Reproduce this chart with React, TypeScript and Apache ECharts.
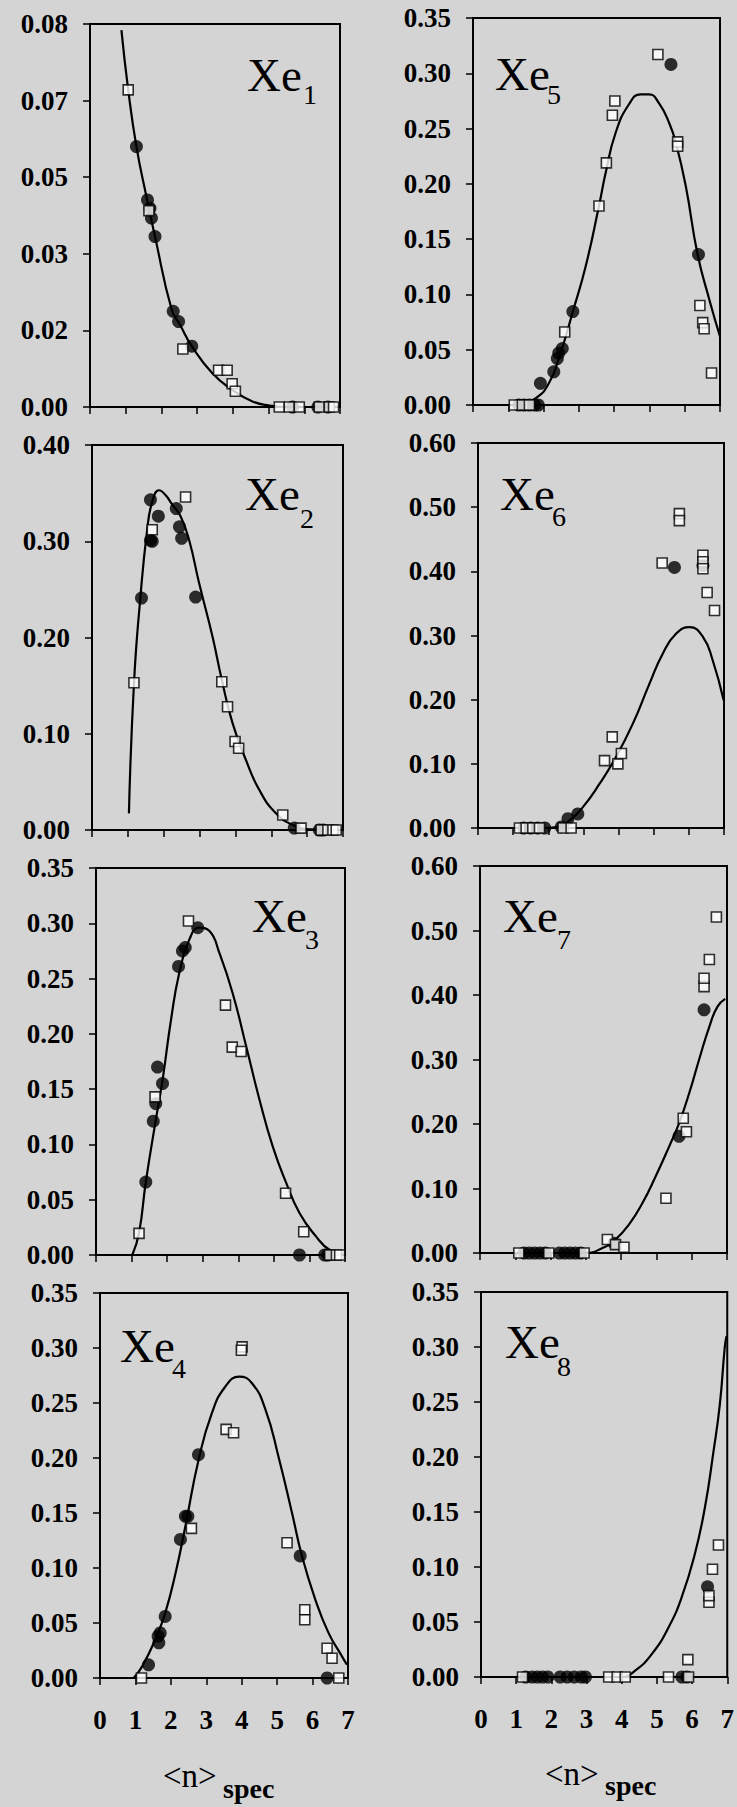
import React, { useEffect, useRef } from "react";
import * as echarts from "echarts";

// ---------- data ----------
const X_TICK_LABELS = ["0", "1", "2", "3", "4", "5", "6", "7"];
const Y1_LABELS = ["0.00", "0.02", "0.03", "0.05", "0.07", "0.08"];
const PANEL_NAMES = ["Xe1", "Xe2", "Xe3", "Xe4", "Xe5", "Xe6", "Xe7", "Xe8"];
const PANEL_SUBS = ["1", "2", "3", "4", "5", "6", "7", "8"];
const X_TITLE = "<n>";
const X_TITLE_SUB = "spec";

type P = [number, number];

const XE1_FIT: P[] = [[0.88,0.0812],[1.07,0.0683],[1.30,0.0561],[1.58,0.0453],[1.82,0.0367],[2.29,0.0209],[2.52,0.0177],[2.85,0.0131],[3.42,0.0073],[3.98,0.0037],[4.55,0.0012],[5.02,0.0003],[5.5,0],[6.94,0]];
const XE1_CIRCLES: P[] = [[1.30,0.0561],[1.61,0.0446],[1.68,0.0428],[1.72,0.0407],[1.82,0.0367],[2.33,0.0206],[2.48,0.0184],[2.85,0.0131],[5.67,0],[6.38,0],[6.66,0]];
const XE1_SQUARES: P[] = [[1.07,0.0683],[1.65,0.0423],[2.60,0.0125],[3.60,0.0079],[3.84,0.0079],[3.98,0.0050],[4.07,0.0034],[5.30,0],[5.58,0],[5.86,0],[6.42,0],[6.70,0],[6.82,0]];

const XE2_FIT: P[] = [[1.03,0.0173],[1.17,0.152],[1.35,0.242],[1.54,0.312],[1.68,0.341],[1.87,0.353],[2.05,0.348],[2.24,0.338],[2.47,0.326],[2.71,0.301],[2.99,0.256],[3.36,0.201],[3.62,0.156],[3.92,0.111],[4.29,0.073],[4.66,0.042],[5.13,0.0173],[5.60,0.0052],[6.06,0.0007],[6.95,0]];
const XE2_CIRCLES: P[] = [[1.38,0.241],[1.63,0.343],[1.63,0.301],[1.68,0.300],[1.85,0.326],[2.35,0.334],[2.44,0.315],[2.50,0.303],[2.89,0.242],[5.64,0.002],[6.34,0],[6.45,0]];
const XE2_SQUARES: P[] = [[1.17,0.153],[1.68,0.312],[2.61,0.346],[3.62,0.154],[3.78,0.128],[3.99,0.092],[4.09,0.085],[5.32,0.0156],[5.83,0.002],[6.39,0],[6.58,0],[6.72,0],[6.81,0]];

const XE3_FIT: P[] = [[1.02,0],[1.21,0.020],[1.40,0.066],[1.68,0.122],[1.87,0.158],[2.11,0.213],[2.34,0.255],[2.62,0.285],[2.90,0.296],[3.19,0.293],[3.47,0.273],[3.84,0.237],[4.22,0.189],[4.60,0.140],[4.97,0.098],[5.35,0.065],[5.72,0.038],[6.19,0.0166],[6.57,0.0045],[6.95,0.0006]];
const XE3_CIRCLES: P[] = [[1.40,0.066],[1.61,0.121],[1.68,0.137],[1.73,0.170],[1.87,0.155],[2.32,0.261],[2.43,0.275],[2.51,0.278],[2.86,0.296],[5.72,0],[6.43,0],[6.52,0]];
const XE3_SQUARES: P[] = [[1.21,0.0196],[1.66,0.143],[2.60,0.302],[3.64,0.226],[3.83,0.188],[4.08,0.184],[5.33,0.0558],[5.84,0.021],[6.57,0],[6.76,0],[6.85,0]];

const XE4_FIT: P[] = [[0.95,0],[1.19,0.0106],[1.56,0.035],[1.84,0.059],[2.13,0.095],[2.41,0.138],[2.78,0.198],[3.16,0.241],[3.54,0.265],[3.93,0.274],[4.29,0.268],[4.67,0.244],[5.04,0.201],[5.42,0.150],[5.70,0.111],[6.08,0.071],[6.45,0.041],[6.83,0.0197],[6.97,0.012]];
const XE4_CIRCLES: P[] = [[1.37,0.012],[1.64,0.038],[1.66,0.032],[1.70,0.041],[1.84,0.056],[2.27,0.126],[2.41,0.147],[2.48,0.147],[2.78,0.203],[5.65,0.111],[6.41,0]];
const XE4_SQUARES: P[] = [[1.17,0],[2.58,0.136],[3.56,0.226],[3.77,0.223],[4.01,0.301],[3.99,0.298],[5.28,0.123],[5.78,0.062],[5.78,0.053],[6.41,0.027],[6.55,0.018],[6.74,0]];

const XE5_FIT: P[] = [[1.1,0],[1.30,0.0006],[1.77,0.006],[2.15,0.0196],[2.48,0.0468],[2.83,0.0845],[3.19,0.125],[3.57,0.180],[3.76,0.210],[4.04,0.246],[4.42,0.272],[4.75,0.281],[4.99,0.281],[5.27,0.273],[5.56,0.255],[5.75,0.237],[6.03,0.198],[6.36,0.137],[6.70,0.095],[7.0,0.062]];
const XE5_CIRCLES: P[] = [[1.30,0],[1.45,0],[1.60,0],[1.75,0],[1.85,0],[1.91,0.0196],[2.29,0.030],[2.39,0.042],[2.43,0.047],[2.53,0.051],[2.83,0.0845],[5.61,0.308],[6.39,0.136]];
const XE5_SQUARES: P[] = [[1.17,0],[1.40,0],[1.60,0],[2.60,0.066],[3.57,0.180],[3.78,0.219],[3.95,0.262],[4.02,0.275],[5.24,0.317],[5.80,0.238],[5.80,0.234],[6.43,0.090],[6.51,0.0745],[6.55,0.069],[6.76,0.029]];

const XE6_FIT: P[] = [[1.09,0],[1.85,0],[2.23,0.0016],[2.61,0.012],[2.99,0.033],[3.46,0.069],[3.93,0.111],[4.41,0.163],[4.88,0.225],[5.26,0.272],[5.64,0.303],[6.02,0.313],[6.40,0.298],[6.68,0.261],[6.99,0.199]];
const XE6_CIRCLES: P[] = [[1.30,0],[1.50,0],[1.70,0],[1.90,0],[2.37,0.0016],[2.56,0.0146],[2.84,0.022],[5.59,0.406],[6.40,0.409]];
const XE6_SQUARES: P[] = [[1.18,0],[1.37,0],[1.56,0],[1.75,0],[2.42,0],[2.65,0],[3.60,0.105],[3.82,0.142],[3.98,0.100],[4.08,0.116],[5.24,0.413],[5.73,0.490],[5.73,0.479],[6.40,0.425],[6.40,0.415],[6.40,0.404],[6.52,0.367],[6.73,0.339]];

const XE7_FIT: P[] = [[1.0,0],[2.99,0],[3.47,0.0077],[3.84,0.021],[4.22,0.044],[4.60,0.077],[4.98,0.119],[5.36,0.165],[5.64,0.201],[5.93,0.248],[6.21,0.300],[6.50,0.351],[6.73,0.382],[6.95,0.394]];
const XE7_CIRCLES: P[] = [[1.25,0],[1.40,0],[1.55,0],[1.70,0],[1.85,0],[2.25,0],[2.40,0],[2.55,0],[2.70,0],[2.85,0],[3.80,0.015],[5.64,0.181],[6.35,0.377]];
const XE7_SQUARES: P[] = [[1.10,0],[1.95,0],[2.95,0],[3.61,0.021],[3.84,0.013],[4.08,0.009],[5.27,0.085],[5.76,0.209],[5.85,0.188],[6.35,0.413],[6.35,0.426],[6.50,0.455],[6.70,0.521]];

const XE8_FIT: P[] = [[1.0,0],[4.0,0],[4.39,0.006],[4.86,0.021],[5.33,0.045],[5.71,0.073],[6.08,0.112],[6.37,0.155],[6.60,0.203],[6.79,0.248],[6.93,0.300],[6.98,0.31]];
const XE8_CIRCLES: P[] = [[1.27,0],[1.45,0],[1.60,0],[1.75,0],[1.90,0],[2.25,0],[2.45,0],[2.65,0],[2.85,0],[2.97,0],[5.71,0],[5.85,0],[6.44,0.082]];
const XE8_SQUARES: P[] = [[1.18,0],[3.63,0],[3.87,0],[4.10,0],[5.33,0],[5.90,0],[5.88,0.0158],[6.48,0.068],[6.48,0.074],[6.58,0.098],[6.75,0.120]];

const FITS = [XE1_FIT, XE2_FIT, XE3_FIT, XE4_FIT, XE5_FIT, XE6_FIT, XE7_FIT, XE8_FIT];
const CIRCLES = [XE1_CIRCLES, XE2_CIRCLES, XE3_CIRCLES, XE4_CIRCLES, XE5_CIRCLES, XE6_CIRCLES, XE7_CIRCLES, XE8_CIRCLES];
const SQUARES = [XE1_SQUARES, XE2_SQUARES, XE3_SQUARES, XE4_SQUARES, XE5_SQUARES, XE6_SQUARES, XE7_SQUARES, XE8_SQUARES];
const Y_MAX = [0.0825, 0.4, 0.35, 0.35, 0.35, 0.6, 0.6, 0.35];
const Y_STEP = [0.0165, 0.1, 0.05, 0.05, 0.05, 0.1, 0.1, 0.05];

// ---------- layout ----------
const GRIDS = [
  { left: 90, top: 24, width: 250, height: 383 },
  { left: 92, top: 445, width: 251, height: 385 },
  { left: 96, top: 868, width: 249, height: 387 },
  { left: 100, top: 1293, width: 248, height: 385 },
  { left: 473, top: 18, width: 247, height: 387 },
  { left: 478, top: 443, width: 246, height: 385 },
  { left: 480, top: 866, width: 247, height: 387 },
  { left: 481, top: 1292, width: 248, height: 385 },
];
const LABEL_POS = [
  { x: 247, b: 91, sx: 303, sb: 104 },
  { x: 245, b: 510, sx: 300, sb: 528 },
  { x: 252, b: 932, sx: 305, sb: 949 },
  { x: 120, b: 1362, sx: 172, sb: 1378 },
  { x: 495, b: 90, sx: 547, sb: 104 },
  { x: 500, b: 510, sx: 552, sb: 526 },
  { x: 503, b: 932, sx: 557, sb: 949 },
  { x: 505, b: 1358, sx: 557, sb: 1376 },
];
const FONT = "'Liberation Serif', 'DejaVu Serif', serif";

export default function App() {
  const ref = useRef<HTMLDivElement>(null);
  useEffect(() => {
    document.body.style.margin = "0";
    const chart = echarts.init(ref.current!, null, { renderer: "svg" });
    const grid: any[] = [];
    const xAxis: any[] = [];
    const yAxis: any[] = [];
    const series: any[] = [];
    const graphic: any[] = [];
    for (let i = 0; i < 8; i++) {
      const g = GRIDS[i];
      grid.push({ ...g, show: true, borderColor: "#000", borderWidth: 2, backgroundColor: "transparent" });
      const bottom = i === 3 || i === 7;
      xAxis.push({
        gridIndex: i, type: "value", min: 0, max: 7, interval: 1,
        splitLine: { show: false },
        axisLine: { show: true, onZero: false, lineStyle: { color: "#000", width: 2 } },
        axisTick: { show: true, length: 7, lineStyle: { color: "#000", width: 1.5 } },
        axisLabel: {
          show: bottom, margin: 28, color: "#000", fontFamily: FONT, fontSize: 27, fontWeight: "bold",
          formatter: (v: number) => X_TICK_LABELS[Math.round(v)] ?? "",
        },
      });
      const step = Y_STEP[i];
      yAxis.push({
        gridIndex: i, type: "value", min: 0, max: Y_MAX[i], interval: step,
        splitLine: { show: false },
        axisLine: { show: true, onZero: false, lineStyle: { color: "#000", width: 2 } },
        axisTick: { show: true, length: 7, lineStyle: { color: "#000", width: 1.5 } },
        axisLabel: {
          margin: 22, color: "#000", fontFamily: FONT, fontSize: 27, fontWeight: "bold",
          formatter: (v: number) => (i === 0 ? Y1_LABELS[Math.round(v / step)] : v.toFixed(2)),
        },
      });
      series.push({
        type: "line", xAxisIndex: i, yAxisIndex: i, data: FITS[i], smooth: 0.5,
        showSymbol: false, lineStyle: { color: "#000", width: 2.2 }, z: 2,
      });
      series.push({
        type: "scatter", xAxisIndex: i, yAxisIndex: i, data: CIRCLES[i], symbol: "circle", symbolSize: 13,
        itemStyle: { color: "#000" }, z: 3,
      });
      series.push({
        type: "scatter", xAxisIndex: i, yAxisIndex: i, data: SQUARES[i], symbol: "rect", symbolSize: 10,
        itemStyle: { color: "#fff", borderColor: "#000", borderWidth: 1.6 }, z: 4,
      });
      const lp = LABEL_POS[i];
      const F = 47, FS = 28;
      graphic.push({
        type: "text", x: lp.x, y: lp.b - 0.3375 * F, z: 10,
        style: { text: PANEL_NAMES[i].slice(0, 2), font: `${F}px ${FONT}`, fill: "#000", verticalAlign: "middle", align: "left" },
      });
      graphic.push({
        type: "text", x: lp.sx, y: lp.sb - 0.3375 * FS, z: 10,
        style: { text: PANEL_SUBS[i], font: `${FS}px ${FONT}`, fill: "#000", verticalAlign: "middle", align: "left" },
      });
    }
    const titles = [
      { x: 163, b: 1787, sx: 223, sb: 1798 },
      { x: 545, b: 1785, sx: 605, sb: 1795 },
    ];
    for (const t of titles) {
      graphic.push({
        type: "text", x: t.x, y: t.b - 0.3375 * 33,
        style: { text: X_TITLE, font: `33px ${FONT}`, fill: "#000", verticalAlign: "middle", align: "left" },
      });
      graphic.push({
        type: "text", x: t.sx, y: t.sb - 0.3375 * 28,
        style: { text: X_TITLE_SUB, font: `bold 28px ${FONT}`, fill: "#000", verticalAlign: "middle", align: "left" },
      });
    }
    chart.setOption({
      animation: false,
      backgroundColor: "#d4d4d4",
      grid, xAxis, yAxis, series, graphic,
    });
    return () => chart.dispose();
  }, []);
  return <div ref={ref} style={{ width: 737, height: 1807 }} />;
}
